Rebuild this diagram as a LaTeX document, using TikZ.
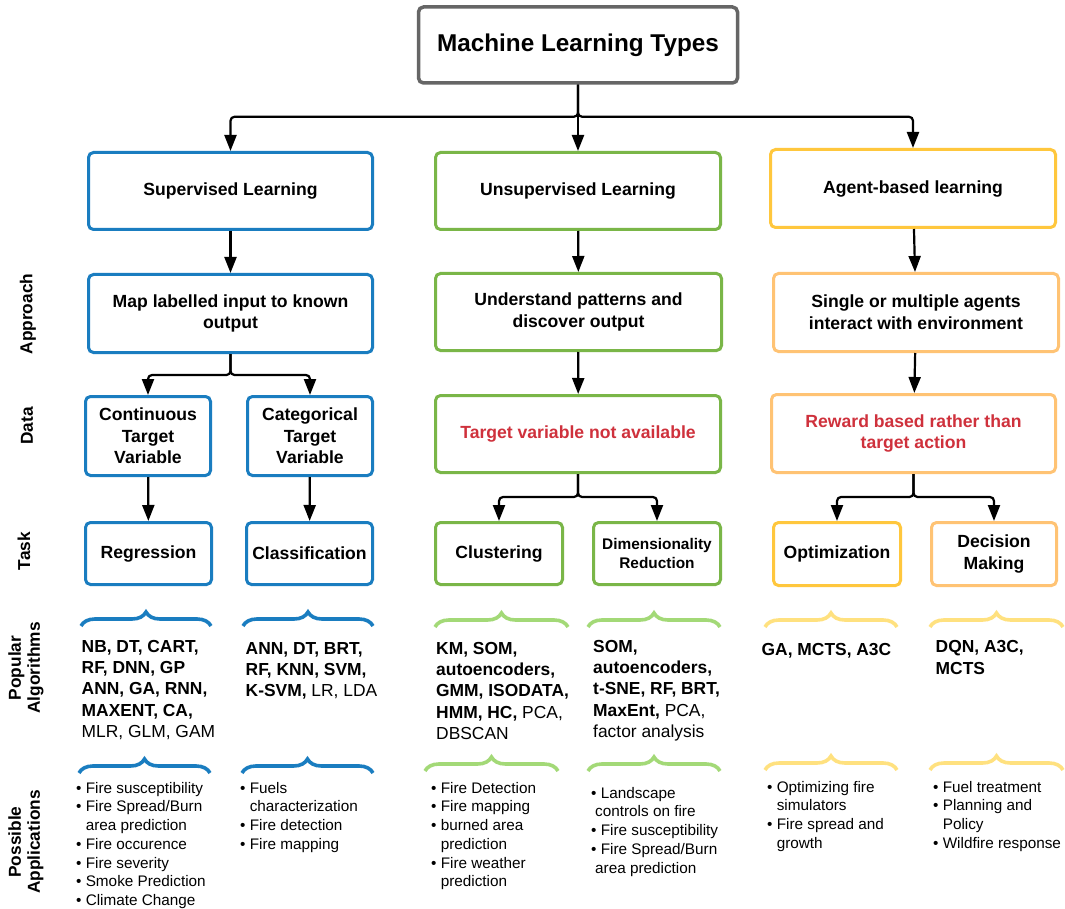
\documentclass[tikz,border=0pt]{standalone}
\usepackage{fontspec}
\setmainfont{Liberation Sans}
\usepackage{xcolor}
\usetikzlibrary{arrows.meta,decorations.pathreplacing}

\definecolor{mlgray}{HTML}{666666}
\definecolor{mlblue}{HTML}{1A7DC0}
\definecolor{mlgreen}{HTML}{7AB648}
\definecolor{mlyellow}{HTML}{FFC73D}
\definecolor{mlorange}{HTML}{FFC374}
\definecolor{mllgreen}{HTML}{A3D977}
\definecolor{mllyellow}{HTML}{FFE17F}
\definecolor{mlred}{HTML}{CF313C}

\newcommand{\hng}{\hphantom{\textbullet\ }}

\begin{document}
\begin{tikzpicture}[x=1pt, y=-1pt,
  main/.style = {draw=#1, rounded corners=5pt, line width=3pt, fill=white, align=center, inner sep=1pt, font=\bfseries\fontsize{17.6}{21.6}\selectfont},
  conn/.style = {line width=2.2pt, rounded corners=4pt, -{Triangle[length=16pt,width=12pt]}},
  brc/.style = {decorate, decoration={brace, amplitude=14pt}, line width=3.6pt, draw=#1},
  side/.style = {rotate=90, align=center, font=\bfseries\fontsize{17.3}{19}\selectfont},
  algs/.style = {anchor=north west, align=left, inner sep=0pt, font=\bfseries\fontsize{17.4}{21.3}\selectfont},
  apps/.style = {anchor=north west, align=left, inner sep=0pt, font=\fontsize{15.3}{18.7}\selectfont}]
\useasboundingbox[fill=white] (0,0) rectangle (1065,909);

% boxes
\node[main=mlgray, line width=3.5pt, font=\bfseries\fontsize{24.3}{28}\selectfont, minimum width=319pt, minimum height=76pt] (ml) at (578,45) {Machine Learning Types};

\node[main=mlblue, minimum width=284pt, minimum height=77pt] (sup) at (230.5,191) {Supervised Learning};
\node[main=mlgreen, minimum width=285pt, minimum height=77pt] (uns) at (578,191) {Unsupervised Learning};
\node[main=mlyellow, minimum width=285pt, minimum height=78pt] (agt) at (913,188.5) {Agent-based learning};

\node[main=mlblue, minimum width=284pt, minimum height=78pt] (map) at (230.5,313.5) {Map labelled input to known\\output};
\node[main=mlgreen, minimum width=286pt, minimum height=77pt] (und) at (578.5,312) {Understand patterns and\\discover output};
\node[main=mlorange, minimum width=285pt, minimum height=78pt] (sgl) at (916,312.5) {Single or multiple agents\\interact with environment};

\node[main=mlblue, minimum width=125pt, minimum height=79pt] (con) at (148,436) {Continuous\\Target\\Variable};
\node[main=mlblue, minimum width=125pt, minimum height=79pt] (cat) at (310,436) {Categorical\\Target\\Variable};
\node[main=mlgreen, text=mlred, minimum width=285pt, minimum height=77pt] (tgt) at (578,434) {Target variable not available};
\node[main=mlorange, text=mlred, minimum width=284pt, minimum height=78pt] (rwd) at (913.5,433.5) {Reward based rather than\\target action};

\node[main=mlblue, minimum width=126pt, minimum height=62pt] (reg) at (148.5,553.5) {Regression};
\node[main=mlblue, minimum width=126pt, minimum height=62pt] (cls) at (309.5,553.5) {Classification};
\node[main=mlgreen, minimum width=127pt, minimum height=62pt] (clu) at (499,553.5) {Clustering};
\node[main=mlgreen, font=\bfseries\fontsize{15.4}{18.7}\selectfont, minimum width=127pt, minimum height=62pt] (dim) at (657,553.5) {Dimensionality\\Reduction};
\node[main=mlyellow, minimum width=127pt, minimum height=63pt] (opt) at (837,554) {Optimization};
\node[main=mlorange, minimum width=125pt, minimum height=63pt] (dec) at (994,554) {Decision\\Making};

% connectors
\draw[conn] (ml.south) -- ++(0,32) -| (sup.north);
\draw[conn] (ml.south) -- (uns.north);
\draw[conn] (ml.south) -- ++(0,32) -| (agt.north);
\draw[conn] (sup) -- (map);
\draw[conn] (uns) -- (und);
\draw[conn] (agt) -- (sgl);
\draw[conn] (map.south) -- ++(0,21) -| (con.north);
\draw[conn] (map.south) -- ++(0,21) -| (cat.north);
\draw[conn] (und) -- (tgt);
\draw[conn] (sgl) -- (rwd);
\draw[conn] (con) -- (reg);
\draw[conn] (cat) -- (cls);
\draw[conn] (tgt.south) -- ++(0,23) -| (clu.north);
\draw[conn] (tgt.south) -- ++(0,23) -| (dim.north);
\draw[conn] (rwd.south) -- ++(0,23) -| (opt.north);
\draw[conn] (rwd.south) -- ++(0,23) -| (dec.north);

% row labels
\node[side] (lapp) at (28,314) {Approach};
\node[side] (ldat) at (27,426) {Data};
\node[side] (ltsk) at (24,551) {Task};
\node[side] (lalg) at (26,668) {Popular\\Algorithms};
\node[side] (lpos) at (26,842) {Possible\\Applications};

% braces
\draw[brc=mlblue] (81,626) -- (211,626);
\draw[brc=mlblue] (243,626) -- (373,626);
\draw[brc=mllgreen] (435,627) -- (568,627);
\draw[brc=mllgreen] (588,627) -- (720,627);
\draw[brc=mllyellow] (765,627) -- (897,627);
\draw[brc=mllyellow] (930,627) -- (1063,627);
\draw[brc=mlblue] (79,773) -- (210,773);
\draw[brc=mlblue] (242,773) -- (373,773);
\draw[brc=mllgreen] (425,771) -- (558,771);
\draw[brc=mllgreen] (588,771) -- (720,771);
\draw[brc=mllyellow] (765,770) -- (897,770);
\draw[brc=mllyellow] (930,770) -- (1063,770);

% algorithms
\node[algs] (supalg) at (81.5,640) {NB, DT, CART,\\RF, DNN, GP\\ANN, GA, RNN,\\MAXENT, CA,\\\mdseries MLR, GLM, GAM};
\node[algs] (catalg) at (245.5,642) {ANN, DT, BRT,\\RF, KNN, SVM,\\K-SVM, \mdseries LR, LDA};
\node[algs] (clualg) at (436,642) {KM, SOM,\\autoencoders,\\GMM, ISODATA,\\HMM, HC, \mdseries PCA,\\\mdseries DBSCAN};
\node[algs] (dimalg) at (593,640) {SOM,\\autoencoders,\\t-SNE, RF, BRT,\\MaxEnt, \mdseries PCA,\\\mdseries factor analysis};
\node[algs] (optalg) at (761.5,643) {GA, MCTS, A3C};
\node[algs] (decalg) at (935.5,640.5) {DQN, A3C,\\MCTS};

% applications
\node[apps] (supapp) at (76,782) {\textbullet\ Fire susceptibility\\\textbullet\ Fire Spread/Burn\\\hng area prediction\\\textbullet\ Fire occurence\\\textbullet\ Fire severity\\\textbullet\ Smoke Prediction\\\textbullet\ Climate Change};
\node[apps] (catapp) at (240,782) {\textbullet\ Fuels\\\hng characterization\\\textbullet\ Fire detection\\\textbullet\ Fire mapping};
\node[apps] (cluapp) at (431,782) {\textbullet\ Fire Detection\\\textbullet\ Fire mapping\\\textbullet\ burned area\\\hng prediction\\\textbullet\ Fire weather\\\hng prediction};
\node[apps] (dimapp) at (591,787) {\textbullet\ Landscape\\\hspace*{4pt}controls on fire\\\textbullet\ Fire susceptibility\\\textbullet\ Fire Spread/Burn\\\hspace*{4pt}area prediction};
\node[apps] (optapp) at (767,781) {\textbullet\ Optimizing fire\\\hng simulators\\\textbullet\ Fire spread and\\\hng growth};
\node[apps] (decapp) at (933,781) {\textbullet\ Fuel treatment\\\textbullet\ Planning and\\\hng Policy\\\textbullet\ Wildfire response};

\end{tikzpicture}
\end{document}
